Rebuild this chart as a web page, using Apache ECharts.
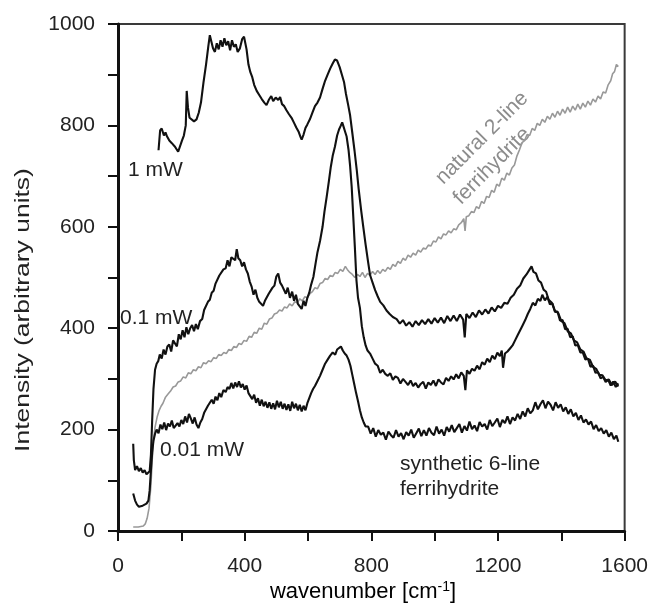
<!DOCTYPE html>
<html>
<head>
<meta charset="utf-8">
<script src="https://cdn.jsdelivr.net/npm/echarts@6/dist/echarts.min.js"></script>
<style>
  html, body { margin: 0; padding: 0; background: #fff; }
  #chart { width: 651px; height: 604px; }
</style>
</head>
<body>
<div id="chart"></div>
<script>
// Raman spectra of ferrihydrite: [wavenumber (cm-1), intensity (arbitrary units)]
const spectrum1mW = [
  [128,751],[133,790],[138,794],[145,780],[150,786],[155,778],[162,770],[170,765],[180,758],[190,748],
  [196,745],[202,770],[208,780],[214,800],[217,868],[221,835],[226,815],[232,818],[240,808],[248,812],
  [255,825],[262,845],[270,885],[278,920],[285,955],[290,978],[295,965],[300,952],[306,945],[312,962],
  [318,950],[324,968],[330,955],[336,972],[342,958],[348,966],[354,948],[360,968],[366,955],[372,960],
  [378,945],[385,952],[392,970],[398,975],[402,978],[406,950],[412,920],[418,905],[424,895],[430,880],
  [438,868],[446,860],[454,852],[462,845],[469,840],[476,850],[484,858],[490,848],[498,855],[506,850],
  [512,856],[518,842],[525,838],[532,830],[540,822],[548,815],[556,805],[563,796],[570,788],[576,778],
  [580,772],[586,782],[592,795],[598,802],[606,812],[614,825],[622,838],[630,845],[638,855],[646,872],
  [654,888],[662,900],[670,912],[678,922],[685,930],[692,928],[700,915],[708,898],[714,885],[720,862],
  [727,840],[733,820],[740,785],[747,750],[754,712],[760,675],[768,632],[775,598],[782,565],[790,530],
  [796,505],[804,490],[812,475],[820,463],[828,452],[838,445],[848,435],[858,428],[868,422],
  [880,418],[890,409],[900,416],[910,405],[920,412],[930,403],[940,414],[950,406],[960,416],[970,408],
  [980,418],[990,409],[1000,420],[1010,411],[1020,421],[1030,410],[1040,424],[1050,414],[1060,425],[1070,414],
  [1080,427],[1090,417],[1095,382],[1100,428],[1110,420],[1120,431],[1130,422],[1140,435],[1150,427],[1160,437],
  [1170,429],[1180,441],[1190,433],[1200,444],[1210,440],[1220,450],[1230,448],[1240,460],[1250,466],[1260,478],
  [1270,484],[1280,498],[1290,506],[1300,516],[1306,522],[1312,511],[1320,508],[1328,494],[1336,490],[1344,476],
  [1352,472],[1360,456],[1370,450],[1380,434],[1390,430],[1400,414],[1410,410],[1420,394],[1430,390],[1440,376],
  [1450,372],[1460,358],[1470,354],[1480,340],[1490,338],[1500,324],[1510,320],[1520,308],[1530,307],[1540,297],
  [1550,299],[1560,288],[1570,295],[1580,285]
];

const spectrum01mW = [
  [48,172],[50,140],[54,120],[60,128],[66,118],[72,124],[78,115],[84,120],[90,112],[96,114],
  [100,118],[104,150],[108,220],[112,280],[117,318],[122,330],[127,335],[132,348],[138,340],[144,358],
  [150,348],[156,364],[162,368],[168,354],[174,376],[180,378],[186,364],[192,388],[198,378],[204,396],
  [210,382],[216,402],[222,388],[228,400],[234,406],[240,394],[246,408],[252,398],[259,414],[266,418],
  [272,436],[278,438],[284,452],[290,456],[296,470],[302,474],[308,488],[314,490],[320,504],[326,504],
  [333,516],[340,518],[346,534],[352,522],[358,540],[364,540],[370,534],[375,556],[380,538],[386,534],
  [392,522],[398,530],[404,516],[410,508],[416,492],[422,482],[428,466],[434,476],[440,460],[446,452],
  [452,454],[458,444],[464,454],[470,456],[476,468],[482,468],[488,480],[494,484],[500,502],[506,508],
  [512,490],[518,484],[524,486],[530,468],[536,480],[543,460],[550,472],[556,454],[562,466],[568,448],
  [574,448],[580,438],[586,454],[592,444],[598,460],[604,470],[610,486],[617,501],[624,528],[630,550],
  [638,572],[646,600],[652,630],[659,659],[666,690],[672,718],[678,740],[685,758],[692,780],[698,792],
  [704,800],[708,806],[712,798],[717,788],[722,778],[728,752],[733,720],[738,679],[743,620],[748,560],
  [753,495],[758,460],[764,440],[770,404],[776,382],[782,366],[788,356],[796,350],[804,340],[812,330],
  [820,326],[828,312],[836,318],[844,310],[852,306],[860,311],[868,298],[876,305],[884,302],[892,291],
  [900,300],[908,294],[916,288],[924,297],[932,286],[940,292],[948,283],[956,290],[964,294],[972,281],
  [980,293],[988,288],[996,297],[1004,286],[1012,299],[1020,293],[1028,289],[1036,302],[1044,296],[1052,305],
  [1060,299],[1068,309],[1076,301],[1084,313],[1092,306],[1097,278],[1102,317],[1110,310],[1118,320],[1126,316],
  [1134,326],[1142,319],[1150,333],[1158,328],[1166,340],[1174,333],[1182,346],[1190,339],[1198,352],[1206,345],
  [1212,356],[1216,322],[1222,350],[1230,354],[1238,360],[1246,366],[1254,376],[1262,386],[1270,396],[1278,406],
  [1286,416],[1294,428],[1302,438],[1310,450],[1318,445],[1326,458],[1334,454],[1340,466],[1348,455],[1356,462],
  [1364,447],[1372,449],[1380,432],[1388,433],[1396,415],[1404,416],[1412,398],[1420,399],[1428,382],[1436,384],
  [1444,366],[1452,367],[1460,352],[1468,352],[1476,338],[1484,340],[1492,324],[1500,326],[1508,312],[1516,313],
  [1524,301],[1532,304],[1540,294],[1548,298],[1556,287],[1564,295],[1572,284],[1580,291]
];

const spectrum001mW = [
  [48,74],[54,60],[60,52],[66,48],[72,46],[78,50],[84,52],[90,54],[96,60],[100,80],
  [104,120],[108,155],[112,178],[117,192],[122,200],[128,193],[134,210],[140,201],[146,214],[152,199],
  [158,212],[164,206],[170,218],[176,203],[182,200],[188,213],[194,206],[200,219],[206,211],[212,226],
  [218,214],[224,231],[230,222],[236,212],[242,224],[248,210],[254,203],[260,214],[266,221],[272,233],
  [278,236],[284,247],[290,245],[296,259],[302,251],[308,265],[314,258],[320,272],[326,264],[333,278],
  [340,274],[346,284],[352,280],[358,292],[364,281],[370,293],[376,284],[382,295],[388,283],[394,290],
  [400,279],[406,287],[412,272],[418,274],[424,260],[430,269],[436,253],[442,262],[448,247],[454,259],
  [460,246],[466,255],[472,243],[478,254],[484,241],[490,252],[496,240],[502,257],[508,244],[514,255],
  [520,241],[526,251],[532,239],[538,250],[544,237],[550,255],[556,242],[562,251],[568,238],[574,249],
  [580,236],[586,247],[592,238],[598,252],[604,262],[610,272],[616,280],[622,286],[630,296],[638,306],
  [646,318],[654,330],[662,338],[670,346],[678,352],[686,348],[692,358],[698,356],[704,364],[710,356],
  [716,350],[722,346],[728,338],[734,326],[740,308],[746,290],[752,272],[758,256],[764,238],[770,224],
  [776,214],[782,206],[790,206],[798,192],[806,203],[814,186],[822,199],[830,190],[838,194],[846,180],
  [854,196],[862,189],[870,184],[878,199],[886,186],[894,193],[902,181],[910,195],[918,188],[926,200],
  [934,184],[942,193],[950,202],[958,187],[966,199],[974,188],[982,203],[990,194],[998,189],[1006,206],
  [1014,192],[1022,200],[1030,188],[1038,205],[1046,196],[1054,209],[1062,195],[1070,203],[1078,211],[1086,194],
  [1094,207],[1102,198],[1110,216],[1118,201],[1126,208],[1134,197],[1142,215],[1150,206],[1158,211],[1166,200],
  [1174,219],[1182,207],[1190,214],[1198,222],[1206,205],[1214,219],[1222,213],[1230,226],[1238,211],[1246,224],
  [1254,218],[1262,231],[1270,221],[1278,236],[1286,226],[1294,242],[1302,232],[1310,238],[1318,254],[1326,240],
  [1334,250],[1342,258],[1350,242],[1358,255],[1366,249],[1374,238],[1382,254],[1390,243],[1398,250],[1406,236],
  [1414,244],[1422,231],[1430,240],[1438,226],[1446,233],[1454,219],[1462,228],[1470,214],[1478,220],[1486,210],
  [1494,216],[1502,201],[1510,209],[1518,197],[1526,203],[1534,192],[1542,199],[1550,186],[1558,194],[1566,181],
  [1574,188],[1580,176]
];

const spectrumNatural = [
  [48,8],[56,8],[64,8],[72,9],[80,10],[86,14],[92,25],[98,45],[104,90],[108,140],
  [112,180],[117,205],[124,226],[130,238],[136,246],[142,252],[150,264],[158,270],[166,276],[174,284],
  [182,286],[190,294],[198,296],[206,304],[214,302],[222,312],[230,310],[238,318],[246,316],[254,324],
  [262,322],[270,332],[278,330],[286,336],[294,334],[302,342],[310,340],[318,348],[326,346],[334,352],
  [342,350],[350,358],[358,356],[366,364],[374,362],[382,370],[390,368],[398,376],[406,374],[414,384],
  [422,382],[430,392],[438,390],[446,400],[454,398],[462,410],[470,408],[478,418],[486,420],[494,428],
  [502,430],[510,436],[518,434],[526,442],[534,440],[542,448],[550,444],[558,452],[566,450],[574,458],
  [582,454],[590,462],[598,460],[606,468],[614,472],[622,480],[630,478],[638,488],[646,490],[654,498],
  [662,496],[670,504],[678,502],[686,510],[694,508],[702,516],[710,512],[718,522],[724,516],[732,510],
  [740,506],[748,500],[756,506],[764,502],[772,510],[780,500],[788,508],[796,504],[804,512],[812,506],
  [820,514],[828,508],[836,516],[844,512],[852,520],[860,516],[868,526],[876,522],[884,532],[892,528],
  [900,538],[908,534],[916,544],[924,540],[932,548],[940,544],[948,554],[956,550],[964,558],[972,556],
  [980,564],[988,562],[996,572],[1004,570],[1012,580],[1020,576],[1028,586],[1036,584],[1044,592],[1052,588],
  [1060,596],[1068,594],[1076,604],[1084,608],[1092,616],[1096,592],[1100,620],[1108,622],[1116,630],[1124,628],
  [1132,640],[1140,636],[1148,650],[1156,646],[1164,660],[1172,658],[1180,672],[1188,668],[1196,684],[1204,680],
  [1212,696],[1220,692],[1228,706],[1236,702],[1244,716],[1252,722],[1260,740],[1268,752],[1276,766],[1284,770],
  [1292,782],[1300,780],[1308,794],[1316,790],[1324,804],[1332,800],[1340,812],[1348,806],[1356,818],[1364,812],
  [1372,824],[1380,816],[1388,828],[1396,820],[1404,832],[1412,824],[1420,836],[1428,826],[1436,838],[1444,830],
  [1452,842],[1460,832],[1468,844],[1476,836],[1484,848],[1492,840],[1500,852],[1508,846],[1516,858],[1524,852],
  [1532,866],[1540,864],[1548,880],[1556,888],[1562,902],[1568,906],[1574,920],[1580,916]
];

const xLabelTicks = [0, 400, 800, 1200, 1600];
const yLabelTicks = [0, 200, 400, 600, 800, 1000];

const FONT = '"Liberation Sans", Arial, Helvetica, sans-serif';
const TEXT = '#222';
const CAPTION_GRAY = '#8c8c8c';

const chart = echarts.init(document.getElementById('chart'), null, { renderer: 'canvas' });

function blackLine(name, data) {
  return {
    name, type: 'line', data, showSymbol: false, symbol: 'none',
    lineStyle: { color: '#111', width: 2.1 }, z: 3
  };
}

// free-standing caption inside the plot
function note(text, x, y, opts) {
  opts = opts || {};
  return {
    type: 'text', x, y, rotation: opts.rotation || 0,
    style: {
      text, fill: opts.color || TEXT,
      fontSize: 21, fontFamily: FONT,
      textAlign: opts.align || 'left', textVerticalAlign: 'middle'
    }
  };
}

chart.setOption({
  animation: false,
  backgroundColor: '#fff',
  grid: {
    left: 118, right: 26, top: 24, bottom: 73,
    show: true, borderColor: '#3a3a3a', borderWidth: 2, backgroundColor: 'transparent'
  },
  xAxis: {
    type: 'value', min: 0, max: 1600, interval: 200,
    axisLine: { show: true, onZero: false, lineStyle: { color: '#111', width: 3 } },
    axisTick: { show: true, length: 10, lineStyle: { color: '#111', width: 2 } },
    axisLabel: {
      margin: 25, fontSize: 21, color: TEXT, fontFamily: FONT,
      formatter: v => (xLabelTicks.indexOf(v) >= 0 ? String(v) : '')
    },
    splitLine: { show: false }
  },
  yAxis: {
    type: 'value', min: 0, max: 1000, interval: 100,
    axisLine: { show: true, onZero: false, lineStyle: { color: '#111', width: 3 } },
    axisTick: { show: true, length: 10, lineStyle: { color: '#111', width: 2 } },
    axisLabel: {
      margin: 23, fontSize: 21, color: TEXT, fontFamily: FONT,
      formatter: v => (yLabelTicks.indexOf(v) >= 0 ? String(v) : '')
    },
    splitLine: { show: false }
  },
  series: [
    {
      name: 'natural 2-line ferrihydrite', type: 'line', data: spectrumNatural,
      showSymbol: false, symbol: 'none', lineStyle: { color: '#999', width: 1.6 }, z: 2
    },
    blackLine('0.01 mW', spectrum001mW),
    blackLine('0.1 mW', spectrum01mW),
    blackLine('1 mW', spectrum1mW)
  ],
  graphic: [
    {
      type: 'text', x: 23, y: 310, rotation: Math.PI / 2, scaleX: 1.26,
      style: {
        text: 'Intensity (arbitrary units)', fill: TEXT, fontSize: 21, fontFamily: FONT,
        textAlign: 'center', textVerticalAlign: 'middle'
      }
    },
    {
      type: 'text', x: 363, y: 592,
      style: {
        text: '{a|wavenumber [cm}{s|-1}{a|]}', textAlign: 'center', textVerticalAlign: 'middle',
        rich: {
          a: { fontSize: 22, fontFamily: FONT, color: TEXT, lineHeight: 24 },
          s: { fontSize: 14, fontFamily: FONT, color: TEXT, verticalAlign: 'top', lineHeight: 16 }
        }
      }
    },
    note('1 mW', 128, 170),
    note('0.1 mW', 120, 318),
    note('0.01 mW', 160, 450),
    note('synthetic 6-line', 400, 464),
    note('ferrihydrite', 400, 489),
    note('natural 2-line', 482, 138, { color: CAPTION_GRAY, rotation: Math.PI / 4, align: 'center' }),
    note('ferrihydrite', 492, 166, { color: CAPTION_GRAY, rotation: Math.PI / 4, align: 'center' })
  ]
});
</script>
</body>
</html>
